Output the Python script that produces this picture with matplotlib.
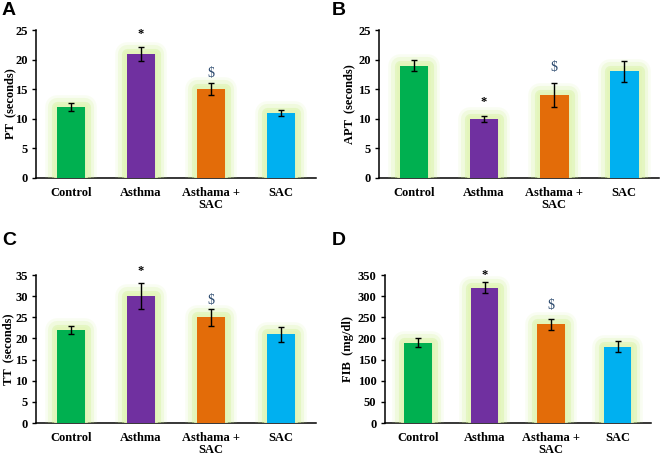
import matplotlib
matplotlib.use("Agg")
import matplotlib.pyplot as plt
import matplotlib.patheffects as pe

categories = ["Control", "Asthma", "Asthama +\nSAC", "SAC"]
colors = ["#00B050", "#7030A0", "#E36C09", "#00B0F0"]

pt_vals = [12, 21, 15, 11]
pt_err = [0.6, 1.2, 1.0, 0.5]
apt_vals = [19, 10, 14, 18]
apt_err = [1.0, 0.5, 2.0, 1.8]
tt_vals = [22, 30, 25, 21]
tt_err = [1.0, 3.0, 2.0, 1.8]
fib_vals = [190, 320, 233, 180]
fib_err = [11, 13, 13, 13]

panels = [
    dict(letter="A", ylabel="PT  (seconds)", vals=pt_vals, err=pt_err, ymax=25, step=5,
         star=24.3, dollar=17.7, pos=[0.0545, 0.6088, 0.4245, 0.3252], lx=0.003, ly=0.995,
         labx=-0.093),
    dict(letter="B", ylabel="APT  (seconds)", vals=apt_vals, err=apt_err, ymax=25, step=5,
         star=12.8, dollar=18.7, pos=[0.574, 0.6088, 0.425, 0.3252], lx=0.503, ly=0.995,
         labx=-0.107),
    dict(letter="C", ylabel="TT  (seconds)", vals=tt_vals, err=tt_err, ymax=35, step=5,
         star=36.0, dollar=29.0, pos=[0.0545, 0.0703, 0.4245, 0.3253], lx=0.003, ly=0.49,
         labx=-0.098),
    dict(letter="D", ylabel="FIB  (mg/dl)", vals=fib_vals, err=fib_err, ymax=350, step=50,
         star=350, dollar=278, pos=[0.583, 0.0703, 0.403, 0.3253], lx=0.503, ly=0.49,
         labx=-0.139),
]

fig = plt.figure(figsize=(6.6, 4.55), dpi=100)
serif = "Liberation Serif"
glow = "#d4f09a"

for p in panels:
    ax = fig.add_axes(p["pos"])
    x = list(range(len(categories)))
    bars = ax.bar(x, p["vals"], width=0.41, color=colors, zorder=3)
    for b in bars:
        b.set_path_effects([
            pe.Stroke(linewidth=17, foreground=glow, alpha=0.12, joinstyle="round"),
            pe.Stroke(linewidth=13, foreground=glow, alpha=0.22, joinstyle="round"),
            pe.Stroke(linewidth=8, foreground=glow, alpha=0.4, joinstyle="round"),
            pe.Stroke(linewidth=4, foreground="#e3f5b8", alpha=0.8, joinstyle="round"),
            pe.Normal(),
        ])
    ax.errorbar(x, p["vals"], yerr=p["err"], fmt="none", ecolor="black",
                elinewidth=1, capsize=2.5, capthick=1, zorder=4)
    ax.set_xlim(-0.5, 3.5)
    ax.set_ylim(0, p["ymax"])
    ax.set_yticks(range(0, p["ymax"] + 1, p["step"]))
    ax.set_xticks(x)
    ax.set_xticklabels(categories, fontfamily=serif, fontweight="bold", fontsize=9,
                       linespacing=1.0)
    for lab in ax.get_yticklabels():
        lab.set_fontfamily(serif)
        lab.set_fontweight("bold")
        lab.set_fontsize(9)
    ax.tick_params(axis="x", length=0, pad=6.5)
    ax.tick_params(axis="y", length=3, width=1, direction="out", pad=3)
    for s in ["top", "right"]:
        ax.spines[s].set_visible(False)
    for s in ["left", "bottom"]:
        ax.spines[s].set_linewidth(1.1)
    ax.set_ylabel(p["ylabel"], fontfamily=serif, fontweight="bold", fontsize=9)
    ax.yaxis.label.set_va("center")
    ax.yaxis.set_label_coords(p["labx"], 0.5)
    ax.text(1, p["star"], "*", ha="center", va="center", fontsize=9,
            fontfamily=serif, fontweight="bold", color="black", clip_on=False)
    ax.text(2, p["dollar"], "$", ha="center", va="center", fontsize=10,
            fontfamily=serif, color="#2c4a6e", clip_on=False)
    fig.text(p["lx"], p["ly"], p["letter"], ha="left", va="top",
             fontfamily="Liberation Sans", fontweight="bold", fontsize=14)

fig.savefig("out.png", dpi=100)
